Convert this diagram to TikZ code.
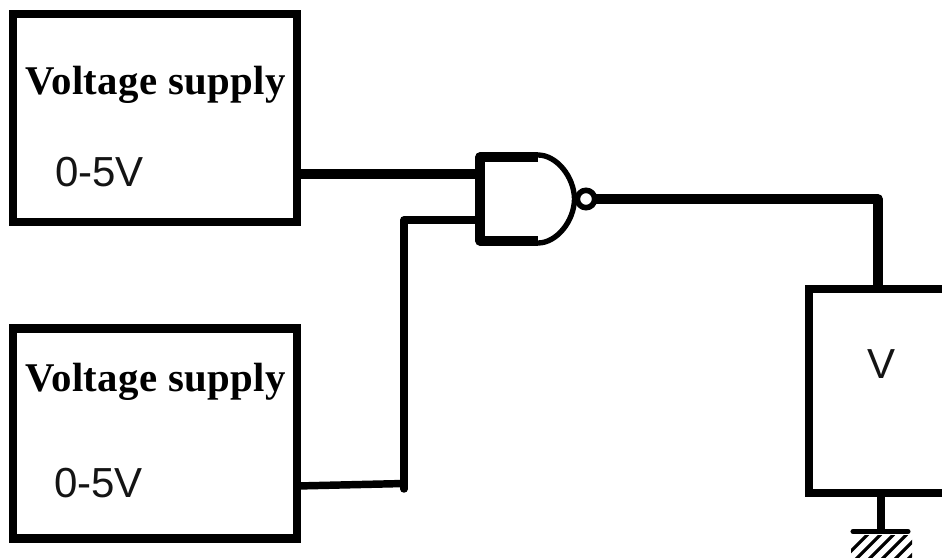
\documentclass[tikz,border=0pt]{standalone}
\usepackage{fontspec}
\setmainfont{Liberation Sans}
\newfontfamily\serifbold[BoldFont=Liberation Serif Bold,LetterSpace=1.0]{Liberation Serif}
\tikzset{
  x=0.75pt,y=-0.75pt,
  supplybox/.style={draw=black,line width=6pt,fill=white,inner sep=0pt,outer sep=0pt,minimum width=213pt},
  metersbox/.style={draw=black,line width=6.5pt,fill=white,inner sep=0pt,outer sep=0pt,minimum width=135pt,minimum height=153pt},
  wirethick/.style={line width=7pt,line join=round},
  wirethin/.style={line width=5.6pt,line join=round},
  titletext/.style={inner sep=0pt,anchor=base west,font=\fontsize{30.6pt}{34pt}\selectfont\serifbold\bfseries},
  valuetext/.style={inner sep=0pt,anchor=base west,font=\fontsize{31.5pt}{34pt}\selectfont,text=black!92}
}
\begin{document}
\begin{tikzpicture}
\clip (0,0) rectangle (942,557);
\fill[white] (0,0) rectangle (942,557);
% boxes
\node[supplybox,minimum height=156pt] (s1) at (155,118) {};
\node[supplybox,minimum height=157pt,line width=6.6pt] (s2) at (155,433.5) {};
\node[metersbox] (meter) at (899,391) {};
% labels
\node[titletext] (t1) at (25,94) {Voltage supply};
\node[valuetext] (v1) at (55,186) {0-5V};
\node[titletext] (t2) at (25,391) {Voltage supply};
\node[valuetext] (v2) at (54,497) {0-5V};
\node[valuetext] (vm) at (867,378) {V};
% gate
\coordinate (gin1) at (480,174);
\coordinate (gin2) at (480,220);
\coordinate (gtl) at (480,157);
\coordinate (gbl) at (480,241);
\coordinate (gtr) at (538,157);
\coordinate (gbr) at (538,241);
\node[circle,draw=black,line width=4.2pt,fill=white,minimum size=13pt,inner sep=0pt,outer sep=0pt] (bub) at (586,199) {};
\draw[line width=4pt] (538,155) .. controls (556,155) and (574,176) .. (574.5,199) .. controls (574,222) and (556,243) .. (538,243);
\draw[line width=6.8pt,line join=round] (gtr) -- (gtl) -- (gbl) -- (gbr);
% wires
\coordinate (j) at (404,220);
\coordinate (k) at (404,489);
\coordinate (corner) at (878,199);
\draw[wirethick] (s1.east |- gin1) -- (gin1);
\draw[wirethin,line cap=round] (gin2) -- (j) -- (k);
\draw[wirethin] (s2.east |- 0,486) -- (404,483.5);
\draw[wirethick] (bub.east) -- (corner) -- (meter.north -| corner);
% ground
\coordinate (gbar) at (881,531.5);
\draw[wirethin] (meter.south -| gbar) -- (gbar);
\draw[line width=3.8pt,line cap=round] (853,531.5) -- (908,531.5);
\begin{scope}
\clip (851,535) rectangle (912,557);
\foreach \i in {0,...,5}
  \draw[line width=2.4pt] (842+\i*13,560) -- (868+\i*13,534);
\end{scope}
\end{tikzpicture}
\end{document}
